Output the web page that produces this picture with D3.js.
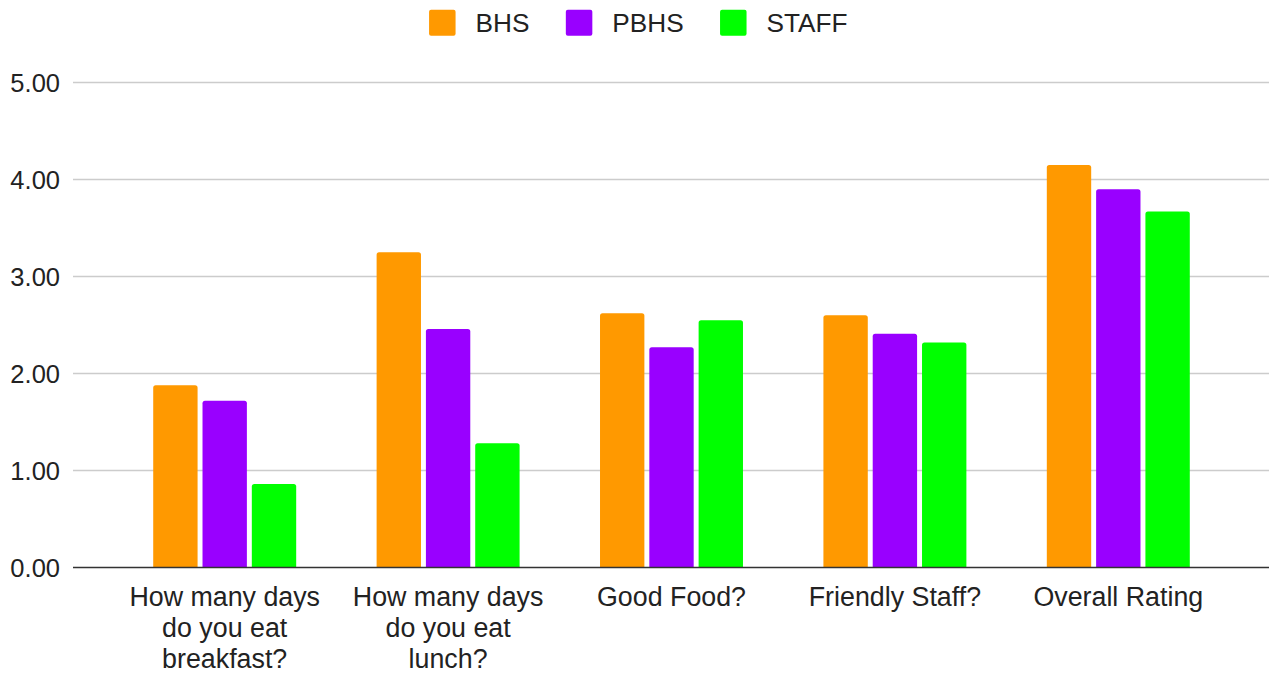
<!DOCTYPE html>
<html>
<head>
<meta charset="utf-8">
<script src="https://cdn.jsdelivr.net/npm/d3@7"></script>
<style>
  body { margin: 0; background: #fff; }
  text { font-family: "Liberation Sans", Arial, sans-serif; fill: #222; }
</style>
</head>
<body>
<div id="chart"></div>
<script>
const categories = [
    ["How many days", "do you eat", "breakfast?"],
    ["How many days", "do you eat", "lunch?"],
    ["Good Food?"],
    ["Friendly Staff?"],
    ["Overall Rating"]
];
const seriesNames = ["BHS", "PBHS", "STAFF"];
const colors = ["#ff9900", "#9900ff", "#00ff00"];
const bhs = [1.88, 3.25, 2.62, 2.60, 4.15];
const pbhs = [1.72, 2.46, 2.27, 2.41, 3.90];
const staff = [0.86, 1.28, 2.55, 2.32, 3.67];
const yTicks = [0, 1, 2, 3, 4, 5];

const width = 1269, height = 675;
const margin = {top: 82.5, left: 73, right: 0, bottom: 107.5};
const series = [bhs, pbhs, staff];

const svg = d3.select("#chart")
    .append("svg")
    .attr("width", width)
    .attr("height", height);

const x0 = d3.scaleBand()
    .domain(d3.range(categories.length))
    .range([113, 1230])
    .paddingInner(0.36)
    .paddingOuter(0.18);

const x1 = d3.scaleBand()
    .domain(d3.range(seriesNames.length))
    .range([0, x0.bandwidth()])
    .paddingInner(0.1);

const yScale = d3.scaleLinear()
    .domain([0, 5])
    .range([height - margin.bottom, margin.top]);

// gridlines
svg.append("g")
    .selectAll("line")
    .data(yTicks.slice(1))
    .join("line")
    .attr("x1", margin.left)
    .attr("x2", width - margin.right)
    .attr("y1", d => yScale(d))
    .attr("y2", d => yScale(d))
    .attr("stroke", "#cccccc")
    .attr("stroke-width", 1.6);

// y labels
svg.append("g")
    .selectAll("text")
    .data(yTicks)
    .join("text")
    .attr("x", 60)
    .attr("y", d => yScale(d))
    .attr("dy", "0.36em")
    .attr("text-anchor", "end")
    .attr("font-size", 25.5)
    .text(d => d3.format(".2f")(d));

// bars with rounded tops
function barPath(x, y, w, h, r) {
    r = Math.min(r, h / 2, w / 2);
    return `M${x},${y + h}V${y + r}Q${x},${y} ${x + r},${y}H${x + w - r}Q${x + w},${y} ${x + w},${y + r}V${y + h}Z`;
}

const groups = svg.append("g")
    .selectAll("g")
    .data(categories)
    .join("g")
    .attr("transform", (d, i) => `translate(${x0(i)},0)`);

groups.selectAll("path")
    .data((d, i) => series.map((s, j) => ({j: j, v: s[i]})))
    .join("path")
    .attr("fill", d => colors[d.j])
    .attr("d", d => barPath(x1(d.j), yScale(d.v), x1.bandwidth(), yScale(0) - yScale(d.v), 2.5));

// baseline
svg.append("line")
    .attr("x1", margin.left)
    .attr("x2", width - margin.right)
    .attr("y1", yScale(0))
    .attr("y2", yScale(0))
    .attr("stroke", "#333")
    .attr("stroke-width", 1.5);

// x labels
groups.append("text")
    .attr("x", x0.bandwidth() / 2)
    .attr("text-anchor", "middle")
    .attr("font-size", 26.8)
    .selectAll("tspan")
    .data(d => d)
    .join("tspan")
    .attr("x", x0.bandwidth() / 2)
    .attr("y", (d, i) => 605.5 + i * 31)
    .text(d => d);

// legend
const legend = svg.append("g");
const items = legend.selectAll("g")
    .data(seriesNames)
    .join("g");
items.append("rect")
    .attr("width", 26.5)
    .attr("height", 26)
    .attr("y", 9.7)
    .attr("rx", 2)
    .attr("fill", (d, i) => colors[i]);
items.append("text")
    .attr("x", 46.5)
    .attr("y", 31.5)
    .attr("font-size", 26.2)
    .text(d => d);

let lx = 0;
items.each(function() {
    const g = d3.select(this);
    g.attr("transform", `translate(${lx},0)`);
    lx += 46.5 + g.select("text").node().getComputedTextLength() + 36.4;
});
const legendWidth = lx - 36.4;
legend.attr("transform", `translate(${638.3 - legendWidth / 2},0)`);
</script>
</body>
</html>
